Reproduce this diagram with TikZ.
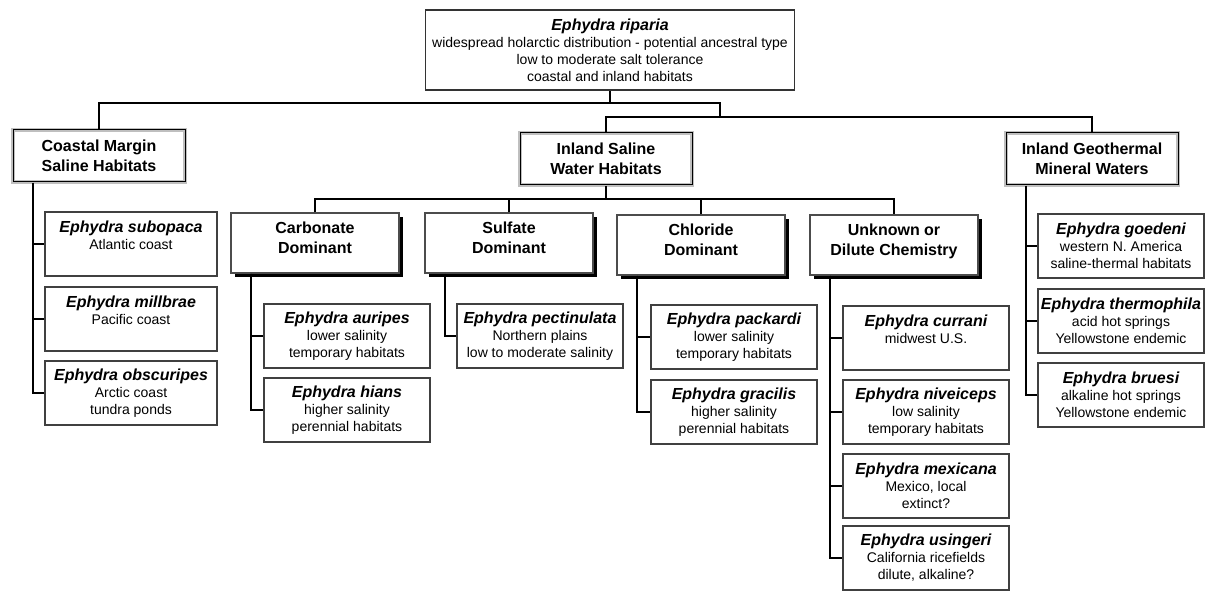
\documentclass[tikz,border=0pt]{standalone}
\usepackage{fontspec}
\setmainfont{Liberation Sans}
\usetikzlibrary{shadows}
\newcommand{\bodyfont}{\fontsize{7}{8.5}\selectfont}
\newcommand{\headfont}{\fontsize{8}{10}\selectfont\bfseries}
\newcommand{\epy}[1]{{\fontsize{8}{8.5}\selectfont\bfseries\itshape Ephydra #1}}
\tikzset{
  rootbox/.style={draw=black!80, line width=0.8pt, fill=white, align=center,
                  minimum width=181pt, minimum height=40pt, font=\bodyfont},
  habitat/.style={draw=black!25, double=black, double distance=0.5pt, line width=0.8pt,
                  fill=white, align=center, minimum width=86pt, minimum height=26pt, font=\headfont},
  chem/.style={draw=black!70, line width=0.6pt, fill=white, align=center,
               minimum width=84pt, minimum height=30pt, font=\headfont,
               drop shadow={shadow xshift=2pt, shadow yshift=-2pt, fill=black, opacity=1}},
  taxbox/.style={draw=black!75, line width=0.7pt, fill=white, align=center,
                 minimum width=83pt, minimum height=32pt, inner sep=1pt, font=\bodyfont},
  link/.style={line width=1pt, draw=black}
}
\begin{document}
\begin{tikzpicture}[x=0.5pt, y=-0.5pt]
  \fill[white] (0,0) rectangle (1206,592);
  \useasboundingbox (0,0) rectangle (1206,592);
  % root
  \node[rootbox] (riparia) at (610,50) {\epy{riparia}\\widespread holarctic distribution - potential ancestral type\\low to moderate salt tolerance\\coastal and inland habitats};
  % habitats
  \node[habitat] (coastal)  at (99,156)   {Coastal Margin\\Saline Habitats};
  \node[habitat] (saline)   at (606,159)  {Inland Saline\\Water Habitats};
  \node[habitat] (geotherm) at (1092,159) {Inland Geothermal\\Mineral Waters};
  % water chemistry
  \node[chem] (carbonate) at (315,243) {Carbonate\\Dominant\\[-5pt]\mbox{}};
  \node[chem] (sulfate)   at (509,243) {Sulfate\\Dominant\\[-5pt]\mbox{}};
  \node[chem] (chloride)  at (701,245) {Chloride\\Dominant\\[-5pt]\mbox{}};
  \node[chem] (unknown)   at (894,245) {Unknown or\\Dilute Chemistry\\[-5pt]\mbox{}};
  % species, coastal
  \node[taxbox, minimum width=86pt] (subopaca)   at (131,244) {\epy{subopaca}\\Atlantic coast\\\mbox{}};
  \node[taxbox, minimum width=86pt] (millbrae)   at (131,319) {\epy{millbrae}\\Pacific coast\\\mbox{}};
  \node[taxbox, minimum width=86pt] (obscuripes) at (131,393) {\epy{obscuripes}\\Arctic coast\\tundra ponds};
  % species, inland saline
  \node[taxbox] (auripes)     at (347,336) {\epy{auripes}\\lower salinity\\temporary habitats};
  \node[taxbox] (hians)       at (347,410) {\epy{hians}\\higher salinity\\perennial habitats};
  \node[taxbox] (pectinulata) at (540,336) {\epy{pectinulata}\\Northern plains\\low to moderate salinity};
  \node[taxbox] (packardi)    at (734,337) {\epy{packardi}\\lower salinity\\temporary habitats};
  \node[taxbox] (gracilis)    at (734,412) {\epy{gracilis}\\higher salinity\\perennial habitats};
  \node[taxbox] (currani)     at (926,338) {\epy{currani}\\midwest U.S.\\\mbox{}};
  \node[taxbox] (niveiceps)   at (926,412) {\epy{niveiceps}\\low salinity\\temporary habitats};
  \node[taxbox] (mexicana)    at (926,486) {\epy{mexicana}\\Mexico, local\\extinct?};
  \node[taxbox] (usingeri)    at (926,558) {\epy{usingeri}\\California ricefields\\dilute, alkaline?};
  % species, geothermal
  \node[taxbox] (goedeni)     at (1121,246) {\epy{goedeni}\\western N. America\\saline-thermal habitats};
  \node[taxbox] (thermophila) at (1121,321) {\epy{thermophila}\\acid hot springs\\Yellowstone endemic};
  \node[taxbox] (bruesi)      at (1121,395) {\epy{bruesi}\\alkaline hot springs\\Yellowstone endemic};
  % tree
  \coordinate (tbar) at (610,103);
  \coordinate (jog)  at (720,117);
  \coordinate (sbar) at (606,199);
  \draw[link] (riparia.south) -- (tbar);
  \draw[link] (coastal.north) |- (tbar) -| (jog) -| (geotherm.north);
  \draw[link] (saline.north) |- (jog);
  \draw[link] (saline.south) -- (sbar);
  \draw[link] (carbonate.north) |- (sbar) -| (unknown.north);
  \draw[link] (sulfate.north) -- (sulfate.north |- sbar);
  \draw[link] (chloride.north) -- (chloride.north |- sbar);
  \foreach \hab/\tax in {coastal/subopaca, coastal/millbrae, coastal/obscuripes,
      carbonate/auripes, carbonate/hians, sulfate/pectinulata,
      chloride/packardi, chloride/gracilis,
      unknown/currani, unknown/niveiceps, unknown/mexicana, unknown/usingeri,
      geotherm/goedeni, geotherm/thermophila, geotherm/bruesi}
    \draw[link] ([xshift=10.5pt]\hab.south west) |- (\tax.west);
\end{tikzpicture}
\end{document}
